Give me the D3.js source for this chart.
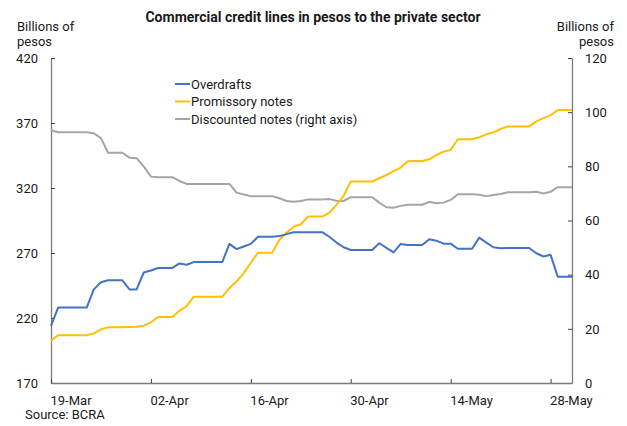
<!DOCTYPE html>
<html><head><meta charset="utf-8">
<script src="https://cdn.jsdelivr.net/npm/d3@7"></script>
<style>
html,body{margin:0;padding:0;background:#fff;}
svg{display:block;font-family:Roboto,"Noto Sans",sans-serif;}
</style></head>
<body><svg id="c" width="627" height="426"></svg>
<script>
// Daily data, 19-Mar-2020 .. 31-May-2020 (weekends/holidays carried forward)
const startDate = "2020-03-19";
const endDate = "2020-05-31";
const overdrafts = [214,228,228,228,228,228,242,247.5,249,249,249,242,242,255,256.5,258.5,258.5,258.5,262,261,
  263,263,263,263,263,277,273,275,277,282.5,282.5,282.5,283,284.5,286,286,286,286,286,282.5,
  278,274.4,272.3,272.3,272.3,272.3,277.5,274,270.5,277,276.2,276.2,276.2,280.5,279.5,277.2,277.2,273.3,273.3,273.3,
  281.8,278,274.4,273.6,273.8,273.8,273.8,273.8,269.8,267.3,268.6,251.8,251.8,251.8];
const promissory = [202.6,206.7,206.7,206.7,206.7,206.7,208.2,211.3,212.8,212.8,212.8,213,213.3,214.1,216.5,220.8,220.8,220.8,225.6,229.2,
  236.4,236.4,236.4,236.4,236.4,243,248,254.5,262.5,270.2,270.2,270.2,280,285.6,290.2,292.1,298,298,298,301,
  307,314,325,325,325,325,327.5,330,333,335.7,340.5,340.8,340.8,342.1,345.2,348,349.3,357.5,357.5,357.5,
  359,361.3,362.8,365.4,367.4,367.4,367.4,367.4,371.3,373.8,375.9,380,380,380];
const discounted = [93.3,92.6,92.6,92.6,92.6,92.6,92.2,90.4,85,85,85,83.2,83,79.9,76.2,76,76,76,74.6,73.5,
  73.5,73.5,73.5,73.5,73.5,73.5,70.3,69.6,69,69,69,69,68.2,67.2,66.9,67.2,67.8,67.8,67.8,67.9,
  67.3,67.2,68.6,68.6,68.6,68.6,66.6,64.9,64.7,65.4,65.8,65.8,65.8,66.9,66.4,66.6,67.6,69.7,69.7,69.7,
  69.5,69,69.4,69.8,70.4,70.4,70.4,70.4,70.6,70,70.6,72.3,72.3,72.3];
const leftTicks = [170,220,270,320,370,420];
const rightTicks = [0,20,40,60,80,100,120];
const xTickDates = ["2020-03-19","2020-04-02","2020-04-16","2020-04-30","2020-05-14","2020-05-28"];
const seriesNames = ["Overdrafts","Promissory notes","Discounted notes (right axis)"];
const seriesColors = ["#4472C4","#FFC000","#A5A5A5"];

const parse = d3.timeParse("%Y-%m-%d");
const dates = d3.timeDay.range(parse(startDate), d3.timeDay.offset(parse(endDate),1));

const svg = d3.select("#c");
const L = 51, R = 572, T = 58, B = 383;
const x = d3.scaleTime().domain([parse(startDate), parse(endDate)]).range([L, R]);
const yL = d3.scaleLinear().domain([170,420]).range([B, T]);
const yR = d3.scaleLinear().domain([0,120]).range([B, T]);

const axisCol = "#7a7a7a", tickCol = "#404040", txt = "#1a1a1a";

// title
svg.append("text").attr("x", 313).attr("y", 22).attr("text-anchor","middle")
  .attr("font-size", 14).attr("font-weight", "bold").attr("fill", txt)
  .text("Commercial credit lines in pesos to the private sector");
// axis titles
const at = [["Billions of",31],["pesos",46]];
at.forEach(([t,y]) => {
  svg.append("text").attr("x", 17).attr("y", y).attr("font-size", 13).attr("fill", txt).text(t);
  svg.append("text").attr("x", 614).attr("y", y).attr("text-anchor","end").attr("font-size", 13).attr("fill", txt).text(t);
});

// left axis
const gl = svg.append("g").attr("transform", `translate(${L},0)`)
  .call(d3.axisLeft(yL).tickValues(leftTicks).tickSizeInner(-4).tickSizeOuter(0).tickPadding(13));
// right axis
const gr = svg.append("g").attr("transform", `translate(${R},0)`)
  .call(d3.axisRight(yR).tickValues(rightTicks).tickSizeInner(-4).tickSizeOuter(0).tickPadding(13));
// bottom axis
const gb = svg.append("g").attr("transform", `translate(0,${B})`)
  .call(d3.axisBottom(x).tickValues(xTickDates.map(parse)).tickFormat(d3.timeFormat("%d-%b")).tickSizeInner(-4).tickSizeOuter(0));
gb.selectAll(".tick text").attr("text-anchor","start").attr("x", -1).attr("y", 22).attr("dy", 0);

[gl,gr,gb].forEach(g => {
  g.attr("font-family", null);
  g.selectAll(".tick text").attr("font-size", 13).attr("fill", txt);
  g.selectAll(".tick line").attr("stroke", tickCol);
  g.select(".domain").attr("stroke", axisCol).attr("stroke-width", 1.3);
});

// lines
const lineL = d3.line().x((d,i) => x(dates[i])).y(d => yL(d));
const lineR = d3.line().x((d,i) => x(dates[i])).y(d => yR(d));
svg.append("path").datum(discounted).attr("d", lineR).attr("fill","none").attr("stroke", seriesColors[2]).attr("stroke-width", 2).attr("stroke-linejoin","round");
svg.append("path").datum(promissory).attr("d", lineL).attr("fill","none").attr("stroke", seriesColors[1]).attr("stroke-width", 2).attr("stroke-linejoin","round");
svg.append("path").datum(overdrafts).attr("d", lineL).attr("fill","none").attr("stroke", seriesColors[0]).attr("stroke-width", 2).attr("stroke-linejoin","round");

// legend
seriesNames.forEach((n,i) => {
  const y = 84 + i*17.5;
  svg.append("line").attr("x1",175).attr("x2",190).attr("y1",y).attr("y2",y).attr("stroke",seriesColors[i]).attr("stroke-width",2);
  svg.append("text").attr("x",191).attr("y",y+4.5).attr("font-size",13).attr("fill",txt).text(n);
});

// source
svg.append("text").attr("x", 25).attr("y", 419).attr("font-size", 13).attr("fill", txt).text("Source: BCRA");
</script></body></html>
